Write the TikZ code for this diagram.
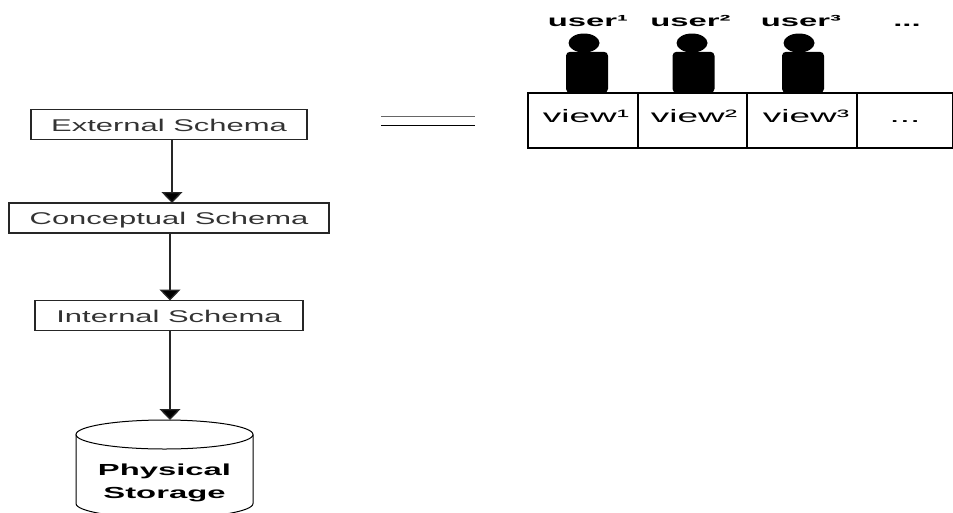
\documentclass[tikz,border=0pt]{standalone}
\usepackage{fontspec}
\setmainfont{Liberation Sans}
\newfontfamily\widefont[FakeStretch=1.82]{Liberation Sans}
\newfontfamily\widerfont[FakeStretch=2.05]{Liberation Sans}
\usetikzlibrary{positioning, arrows.meta, shapes.geometric}

\begin{document}
\begin{tikzpicture}[x=1pt, y=-1pt]
 \tikzset{schema box/.style={draw=black!85, line width=1.2pt, minimum height=30pt, inner sep=0pt, outer sep=0pt,
        text height=13pt, text depth=0pt, text=black!80, font=\widefont\fontsize{17}{17}\selectfont}}
 \tikzset{view box/.style={draw=black, line width=1.1pt, minimum height=55pt, inner sep=0pt, outer sep=0pt,
        text height=3pt, text depth=0pt, font=\widerfont\fontsize{18}{18}\selectfont}}
 \tikzset{user label/.style={inner sep=0pt, text height=12pt, text depth=0pt,
        font=\widerfont\bfseries\fontsize{16}{16}\selectfont}}
 \tikzset{head/.style={ellipse, fill=black, minimum width=31pt, minimum height=19pt, inner sep=0pt}}
 \tikzset{body/.style={fill=black, rounded corners=4pt, minimum width=42pt, minimum height=41pt, inner sep=0pt}}
 \tikzset{flow/.style={draw=black!85, line width=1.3pt, -{Triangle[width=21pt,length=11pt,fill=black]}}}

 \useasboundingbox (0,0) rectangle (953,512);

 \node (external) [schema box, minimum width=276pt] at (169,124.5) {External Schema};
 \node (conceptual) [schema box, minimum width=320pt] at (169,218) {Conceptual Schema};
 \node (internal) [schema box, minimum width=268pt] at (169,315.5) {Internal Schema};

 \node (storage) [minimum width=177pt, minimum height=99pt, inner sep=0pt, outer sep=0pt, anchor=north,
    align=center, font=\widerfont\bfseries\fontsize{16}{23}\selectfont] at (164.5,420)
    {\rule{0pt}{16pt}\\Physical\\Storage};
 \coordinate (storagetop) at (164.5,434.5);
 \draw[black, line width=1pt] (storagetop) ellipse [x radius=88.5, y radius=14.5];
 \draw[black, line width=1pt] ([xshift=-88.5pt]storagetop) -- ++(0,69)
    arc [start angle=180, end angle=0, x radius=88.5, y radius=14.5] -- ([xshift=88.5pt]storagetop);

 \draw[flow] ([xshift=3pt]external.south) -- ([xshift=3pt]external.south |- conceptual.north);
 \draw[flow] ([xshift=1pt]conceptual.south) -- ([xshift=1pt]conceptual.south |- internal.north);
 \draw[flow] ([xshift=1pt]internal.south) -- ([xshift=5.5pt]storage.north);

 \coordinate (equalleft) at (381,116);
 \coordinate (equalright) at (475,116);
 \draw[black!60, line width=1pt] (equalleft) -- (equalright);
 \draw[black, line width=1pt] ([yshift=-9pt]equalleft) -- ([yshift=-9pt]equalright);

 \node (view1) [view box, minimum width=110pt, anchor=north west] at (528,93) {\kern6pt view¹};
 \node (view2) [view box, minimum width=109pt, right=0pt of view1] {\kern3pt view²};
 \node (view3) [view box, minimum width=110pt, right=0pt of view2] {\kern8pt view³};
 \node (viewmore) [view box, minimum width=96pt, right=0pt of view3] {...};
 \draw[line width=2.6pt] (view1.north east) -- (view1.south east);
 \draw[line width=2.6pt] (view2.north east) -- (view2.south east);
 \draw[line width=2.6pt] (view3.north east) -- (view3.south east);

 \node (body1) [body, anchor=south] at (587,93) {};
 \node (body2) [body, anchor=south] at (693.5,93) {};
 \node (body3) [body, anchor=south] at (803,93) {};
 \node (head1) [head] at (584,43) {};
 \node (head2) [head] at (692,43) {};
 \node (head3) [head] at (799,43) {};

 \node (user1) [user label] at (588,20) {user¹};
 \node (user2) [user label] at (690.5,20) {user²};
 \node (user3) [user label] at (801,20) {user³};
 \node (usermore) [user label] at (907,20) {...};
\end{tikzpicture}
\end{document}
